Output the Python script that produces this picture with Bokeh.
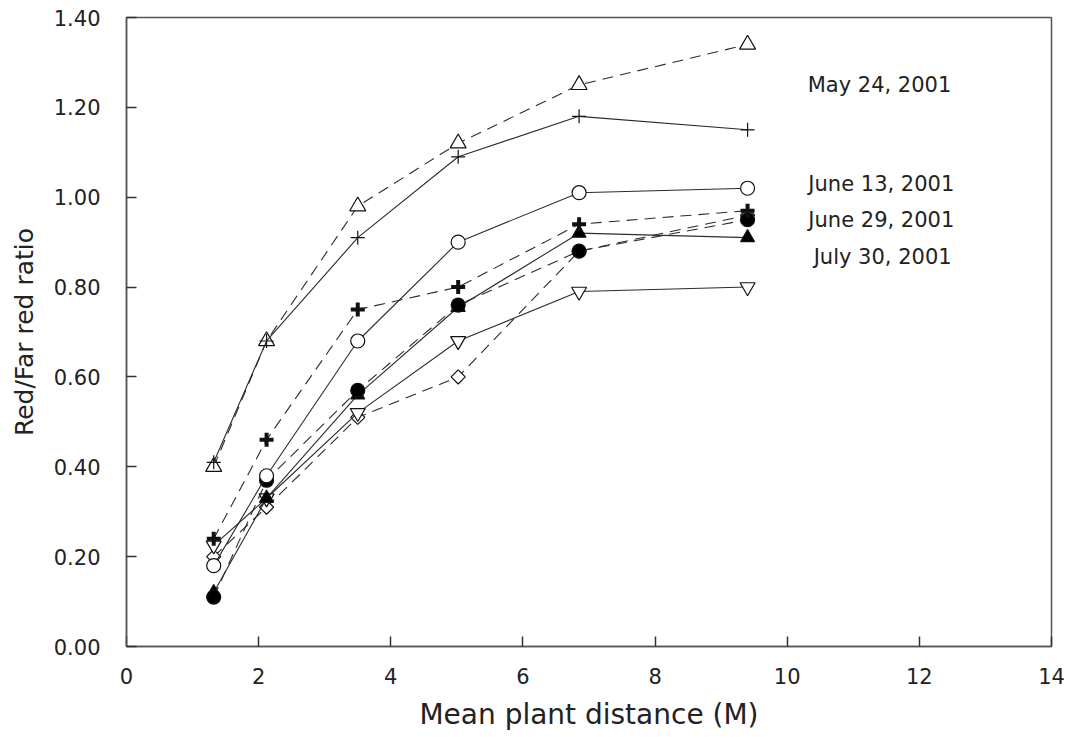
import math
from bokeh.plotting import figure
from bokeh.models import Range1d, FixedTicker, NumeralTickFormatter, Label
from bokeh.embed import file_html
from bokeh.resources import INLINE

# Mean plant distance (M)
distance = [1.32, 2.12, 3.50, 5.02, 6.85, 9.40]

# Red / Far red ratios
may24_dashed = [0.40, 0.68, 0.98, 1.12, 1.25, 1.34]      # open triangle
may24_solid = [0.41, 0.68, 0.91, 1.09, 1.18, 1.15]       # thin plus
june13_solid = [0.18, 0.38, 0.68, 0.90, 1.01, 1.02]      # open circle
june13_dashed = [0.24, 0.46, 0.75, 0.80, 0.94, 0.97]     # thick plus
june29_dashed = [0.11, 0.37, 0.57, 0.76, 0.88, 0.95]     # filled circle
june29_solid = [0.12, 0.33, 0.56, 0.755, 0.92, 0.91]     # filled triangle
july30_solid = [0.225, 0.33, 0.52, 0.68, 0.79, 0.80]     # open inverted triangle
july30_dashed = [0.20, 0.31, 0.51, 0.60, 0.88, 0.96]     # open diamond

x_ticks = [0, 2, 4, 6, 8, 10, 12, 14]
y_ticks = [0.0, 0.2, 0.4, 0.6, 0.8, 1.0, 1.2, 1.4]

date_labels = ["May 24, 2001", "June 13, 2001", "June 29, 2001", "July 30, 2001"]

FONT = "DejaVu Sans"
LINE = "#2b2b2b"
AX = "#555555"

p = figure(width=1069, height=737, output_backend="svg", toolbar_location=None,
           x_range=Range1d(0, 14), y_range=Range1d(0, 1.4),
           min_border_left=126, min_border_right=18, min_border_top=17, min_border_bottom=91)
p.background_fill_color = "white"
p.border_fill_color = "white"
p.grid.visible = False
p.outline_line_color = AX
p.outline_line_width = 1.5

for ax in (p.xaxis[0], p.yaxis[0]):
    ax.major_tick_in = 10
    ax.major_tick_out = 0
    ax.minor_tick_line_color = None
    ax.axis_line_color = AX
    ax.axis_line_width = 1.5
    ax.major_tick_line_color = "#333333"
    ax.major_tick_line_width = 1.5
    ax.major_label_text_font = FONT
    ax.major_label_text_font_size = "21px"
    ax.major_label_text_color = "#222222"
    ax.axis_label_text_font = FONT
    ax.axis_label_text_font_style = "normal"
    ax.axis_label_text_color = "#222222"

p.xaxis.ticker = FixedTicker(ticks=x_ticks)
p.yaxis.ticker = FixedTicker(ticks=y_ticks)
p.yaxis.formatter = NumeralTickFormatter(format="0.00")
p.xaxis.axis_label = "Mean plant distance (M)"
p.yaxis.axis_label = "Red/Far red ratio"
p.xaxis.axis_label_text_font_size = "28px"
p.yaxis.axis_label_text_font_size = "25px"
p.xaxis.major_label_standoff = 21
p.yaxis.major_label_standoff = 26
p.xaxis.axis_label_standoff = 11
p.yaxis.axis_label_standoff = 12

DASH = "11 7"

def series(y, dash, marker, size, fill, lw=1.2, angle=0.0):
    p.line(distance, y, line_color=LINE, line_width=1.1, line_dash=dash)
    p.scatter(distance, y, marker=marker, size=size, line_color="#111111",
              fill_color=fill, line_width=lw, angle=angle)

series(july30_dashed, DASH, "square", 10, "white", angle=math.pi / 4)
series(july30_solid, "solid", "inverted_triangle", 15, "white")
series(june29_solid, "solid", "triangle", 14, "black")
series(june29_dashed, DASH, "circle", 14, "black")
series(june13_solid, "solid", "circle", 14, "white")
series(june13_dashed, DASH, "cross", 14, None, lw=4)
series(may24_dashed, DASH, "triangle", 16, "white")
series(may24_solid, "solid", "cross", 14, None, lw=1.2)

label_pos = [(10.31, 1.249), (10.32, 1.030), (10.32, 0.950), (10.40, 0.866)]
for txt, (lx, ly) in zip(date_labels, label_pos):
    p.add_layout(Label(x=lx, y=ly, text=txt, text_font=FONT, text_font_size="21px",
                       text_color="#222222", text_baseline="middle", text_align="left"))

open("out.html", "w").write(file_html(p, INLINE))
